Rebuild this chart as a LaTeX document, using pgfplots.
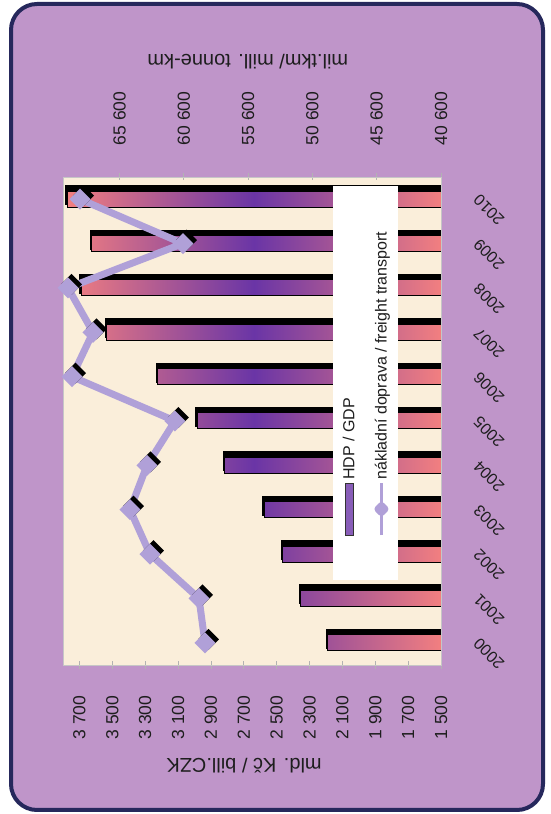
\documentclass[border=0pt]{standalone}
\usepackage{pgfplots}
\pgfplotsset{compat=1.18}
\usepackage{fontspec}
\setmainfont{Liberation Sans}
\definecolor{framepurple}{HTML}{BF95C9}
\definecolor{framenavy}{HTML}{26285C}
\definecolor{cream}{HTML}{FAEEDA}
\definecolor{salmon}{HTML}{F27F80}
\definecolor{barpurple}{HTML}{6A35A6}
\definecolor{lav}{HTML}{B0A0D8}
\definecolor{txt}{HTML}{1E1E1E}

\pgfdeclareplotmark{shdiamond}{%
  \pgfsetfillcolor{black}%
  \pgfpathmoveto{\pgfqpoint{3.5pt}{7pt}}%
  \pgfpathlineto{\pgfqpoint{14pt}{-3.5pt}}%
  \pgfpathlineto{\pgfqpoint{3.5pt}{-14pt}}%
  \pgfpathlineto{\pgfqpoint{-7pt}{-3.5pt}}%
  \pgfpathclose\pgfusepath{fill}%
  \pgfsetfillcolor{lav}%
  \pgfpathmoveto{\pgfqpoint{0pt}{10.5pt}}%
  \pgfpathlineto{\pgfqpoint{10.5pt}{0pt}}%
  \pgfpathlineto{\pgfqpoint{0pt}{-10.5pt}}%
  \pgfpathlineto{\pgfqpoint{-10.5pt}{0pt}}%
  \pgfpathclose\pgfusepath{fill}%
}

\pgfplotsset{
  common/.style={
    at={(149pt,-441pt)}, anchor=south west,
    scale only axis, width=488pt, height=378pt,
    xmin=-0.5, xmax=10.5,
    axis line style={gray!45, line width=0.8pt},
    tick align=center, major tick length=7pt,
    tick style={gray!60, line width=0.8pt},
    tick label style={font=\fontsize{17.5}{18}\selectfont, text=txt},
    /pgf/number format/.cd, 1000 sep={\ }, assume math mode=true,
  }
}

\begin{document}
\begin{tikzpicture}
\useasboundingbox (0pt,0pt) rectangle (550pt,814pt);
\fill[white] (0pt,0pt) rectangle (550pt,814pt);
\draw[framenavy, line width=4pt, fill=framepurple, rounded corners=26pt] (11pt,4pt) rectangle (543pt,810pt);

\begin{scope}[transform canvas={rotate=90}]
\begin{axis}[common,
  axis background/.style={fill=cream},
  ybar, bar width=16pt,
  ymin=1500, ymax=3800,
  ytick={1500,1700,...,3700},
  ytick pos=left, yticklabel pos=left,
  yticklabel style={anchor=center, xshift=-49pt},
  xtick={0,...,10},
  xticklabels={2000,2001,2002,2003,2004,2005,2006,2007,2008,2009,2010},
  xtick pos=bottom, xticklabel pos=bottom,
  xtick style={draw=none},
  xticklabel style={font=\fontsize{16}{17}\selectfont, anchor=center, xshift=-11pt, yshift=-41pt, rotate=45},
  ylabel={mld. Kč / bill.CZK},
  every axis y label/.style={at={(axis description cs:0,0.521)}, anchor=center, xshift=-101pt, rotate=90,
    font=\fontsize{20}{22}\selectfont, text=txt},
]
% shadow of the bars
\addplot[bar shift=4pt, fill=black, draw=black, line width=4pt]
  coordinates {
  (0,2189) (1,2352) (2,2464) (3,2577) (4,2815) (5,2984)
  (6,3222) (7,3535) (8,3689) (9,3626) (10,3775)
};
\addplot[bar shift=0pt, draw=black, line width=1pt, top color=salmon, bottom color=salmon, middle color=barpurple]
  coordinates {
  (0,2189) (1,2352) (2,2464) (3,2577) (4,2815) (5,2984)
  (6,3222) (7,3535) (8,3689) (9,3626) (10,3775)
};
\end{axis}

\begin{axis}[common,
  ymin=40600, ymax=70000,
  scaled y ticks=false,
  ytick={40600,45600,...,65600},
  ytick pos=right, yticklabel pos=right,
  yticklabel style={anchor=center, xshift=55pt},
  xtick=\empty,
  ylabel={mil.tkm/ mill. tonne-km},
  every axis y label/.style={at={(axis description cs:1,0.511)}, anchor=center, xshift=115pt, rotate=90,
    font=\fontsize{20}{22}\selectfont, text=txt},
  legend style={at={(0.578,0.2)}, anchor=center, draw=none, fill=white,
    font=\fontsize{16}{17}\selectfont, text=txt, inner xsep=44pt, inner ysep=8pt, row sep=15pt},
  legend cell align=left,
]
\addlegendimage{legend image code/.code={\draw[fill=barpurple!80, draw=black!80, line width=0.8pt] (0pt,-4pt) rectangle (52pt,4pt);}}
\addlegendentry{HDP / GDP}
\addplot[lav, line width=7pt, line join=round, mark=shdiamond,
  legend image code/.code={\draw[lav, line width=2.5pt] (0pt,0pt) -- (52pt,0pt);
    \fill[lav] (26pt,3.5pt) -- (29.5pt,0pt) -- (26pt,-3.5pt) -- (22.5pt,0pt) -- cycle;}]
  coordinates {
  (0,58956) (1,59422) (2,63234) (3,64790) (4,63467) (5,61290)
  (6,69300) (7,67667) (8,69612) (9,60667) (10,68678)
};
\addlegendentry{nákladní doprava / freight transport}
\end{axis}
\end{scope}
\end{tikzpicture}
\end{document}
